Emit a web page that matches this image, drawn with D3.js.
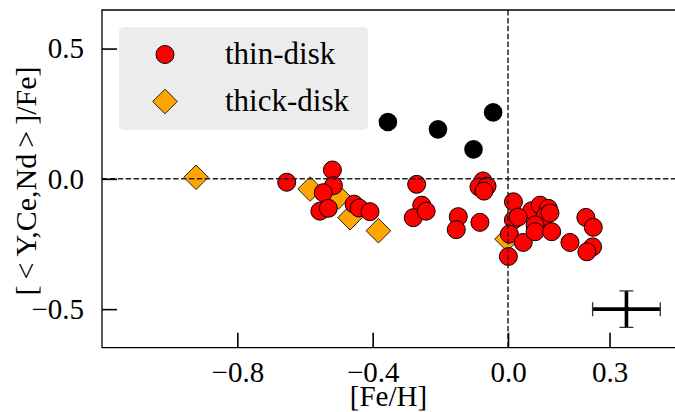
<!DOCTYPE html>
<html>
<head>
<meta charset="utf-8">
<script src="https://cdn.jsdelivr.net/npm/d3@7"></script>
<style>
  html, body { margin: 0; padding: 0; background: #fff; }
  svg { display: block; font-family: "Liberation Serif", "Times New Roman", serif; }
</style>
</head>
<body>
<svg id="chart" width="675" height="412"></svg>
<script>
// [Fe/H] and [<Y,Ce,Nd>/Fe] for the thin-disk stars
const thinFeH = [-0.654, -0.519, -0.516, -0.546, -0.556, -0.531, -0.455, -0.440, -0.408,
  -0.270, -0.255, -0.280, -0.242, -0.147, -0.153, -0.083, -0.074, -0.086, -0.062, -0.071,
  0.016, 0.016, 0.004, 0.001, 0.045, 0.070, 0.095, 0.119, 0.109, 0.080, 0.080, 0.129,
  0.030, 0.124, 0.183, 0.230, 0.252, 0.250, 0.233];
const thinYCeNd = [-0.013, 0.034, -0.026, -0.053, -0.124, -0.113, -0.097, -0.112, -0.126,
  -0.021, -0.101, -0.149, -0.124, -0.145, -0.195, -0.167, -0.008, -0.031, -0.028, -0.047,
  -0.088, -0.158, -0.212, -0.298, -0.244, -0.122, -0.101, -0.113, -0.145, -0.177, -0.203, -0.203,
  -0.147, -0.131, -0.244, -0.148, -0.186, -0.261, -0.280];

// thick-disk stars
const thickFeH = [-0.922, -0.585, -0.501, -0.467, -0.383, -0.003];
const thickYCeNd = [0.006, -0.039, -0.069, -0.149, -0.199, -0.231];

// unclassified stars (black)
const otherFeH = [-0.355, -0.207, -0.102, -0.044];
const otherYCeNd = [0.218, 0.190, 0.113, 0.255];

// typical uncertainty
const errFeH = [0.35], errYCeNd = [-0.5], errX = [0.1], errY = [0.07];

const xTicks = [-0.8, -0.4, 0.0, 0.3];
const yTicks = [-0.5, 0.0, 0.5];

const svg = d3.select("#chart");
const pLeft = 102, pRight = 675, pTop = 10, pBottom = 347.7;
const x = d3.scaleLinear().domain([-1.2, 0.4935]).range([pLeft, pRight]);
const y = d3.scaleLinear().domain([-0.648, 0.648]).range([pBottom, pTop]);

const fmt = v => d3.format(".1f")(v).replace("-", "\u2212");

const plot = svg.append("g");
const clip = svg.append("clipPath").attr("id", "clip");
clip.append("rect").attr("x", pLeft).attr("y", pTop).attr("width", pRight - pLeft).attr("height", pBottom - pTop);
const marks = plot.append("g").attr("clip-path", "url(#clip)");

// thick-disk diamonds
const dsz = 12.3;
const diamond = (cx, cy) => `M${cx},${cy - dsz}L${cx + dsz},${cy}L${cx},${cy + dsz}L${cx - dsz},${cy}Z`;
marks.selectAll("path.thick").data(thickFeH.map((v, i) => [v, thickYCeNd[i]])).join("path")
  .attr("class", "thick")
  .attr("d", d => diamond(x(d[0]), y(d[1])))
  .attr("fill", "#ffa500").attr("stroke", "#222").attr("stroke-width", 1);

// thin-disk circles
marks.selectAll("circle.thin").data(thinFeH.map((v, i) => [v, thinYCeNd[i]])).join("circle")
  .attr("class", "thin")
  .attr("cx", d => x(d[0])).attr("cy", d => y(d[1])).attr("r", 9)
  .attr("fill", "#ff0000").attr("stroke", "#000").attr("stroke-width", 1);

// other stars
marks.selectAll("circle.other").data(otherFeH.map((v, i) => [v, otherYCeNd[i]])).join("circle")
  .attr("class", "other")
  .attr("cx", d => x(d[0])).attr("cy", d => y(d[1])).attr("r", 9.3)
  .attr("fill", "#000");

// zero reference lines
marks.append("line").attr("x1", pLeft).attr("x2", pRight).attr("y1", y(0)).attr("y2", y(0))
  .attr("stroke", "#222").attr("stroke-width", 1.5).attr("stroke-dasharray", "5.5,2.4");
marks.append("line").attr("x1", x(0)).attr("x2", x(0)).attr("y1", pTop).attr("y2", pBottom)
  .attr("stroke", "#222").attr("stroke-width", 1.5).attr("stroke-dasharray", "5.5,2.4");

// error cross
errFeH.forEach((v, i) => {
  const cx = x(v), cy = y(errYCeNd[i]);
  const x0 = x(v - errX[i]), x1 = x(v + errX[i]);
  const y0 = y(errYCeNd[i] + errY[i]), y1 = y(errYCeNd[i] - errY[i]);
  const g = marks.append("g").attr("stroke", "#000");
  g.append("line").attr("x1", x0).attr("x2", x1).attr("y1", cy).attr("y2", cy).attr("stroke-width", 3.6);
  g.append("line").attr("x1", cx).attr("x2", cx).attr("y1", y0).attr("y2", y1).attr("stroke-width", 3.6);
  g.append("line").attr("x1", x0).attr("x2", x0).attr("y1", cy - 7).attr("y2", cy + 7).attr("stroke-width", 1.3).attr("stroke", "#333");
  g.append("line").attr("x1", x1).attr("x2", x1).attr("y1", cy - 7).attr("y2", cy + 7).attr("stroke-width", 1.3).attr("stroke", "#333");
  g.append("line").attr("x1", cx - 7).attr("x2", cx + 7).attr("y1", y0).attr("y2", y0).attr("stroke-width", 1.3).attr("stroke", "#333");
  g.append("line").attr("x1", cx - 7).attr("x2", cx + 7).attr("y1", y1).attr("y2", y1).attr("stroke-width", 1.3).attr("stroke", "#333");
});

// axes with inward ticks
const xAxis = d3.axisBottom(x).tickValues(xTicks).tickFormat(fmt).tickSize(-15).tickPadding(13.5);
const yAxis = d3.axisLeft(y).tickValues(yTicks).tickFormat(fmt).tickSize(-15).tickPadding(18);

const gx = svg.append("g").attr("transform", `translate(0,${pBottom})`).call(xAxis);
const gy = svg.append("g").attr("transform", `translate(${pLeft},0)`).call(yAxis);
[gx, gy].forEach(g => {
  g.select(".domain").remove();
  g.selectAll(".tick line").attr("stroke", "#000").attr("stroke-width", 1.6);
  g.selectAll(".tick text").attr("font-size", 29).attr("fill", "#000")
    .attr("font-family", "Liberation Serif, serif");
});
gx.selectAll(".tick text").attr("dy", "0.71em");

// frame (left, top, bottom)
svg.append("path")
  .attr("d", `M${pRight},${pTop}H${pLeft}V${pBottom}H${pRight}`)
  .attr("fill", "none").attr("stroke", "#000").attr("stroke-width", 1.3);

// axis titles
svg.append("text").attr("x", (pLeft + pRight) / 2).attr("y", 406)
  .attr("text-anchor", "middle").attr("font-size", 29).text("[Fe/H]");
svg.append("text").attr("transform", `translate(35.5,181) rotate(-90)`)
  .attr("text-anchor", "middle").attr("font-size", 30)
  .text("[\u2009<\u2009Y,Ce,Nd\u2009>\u2009]/Fe]");

// legend
const lg = svg.append("g");
lg.append("rect").attr("x", 119).attr("y", 27).attr("width", 249).attr("height", 103)
  .attr("rx", 5).attr("fill", "#ececec");
lg.append("circle").attr("cx", 165).attr("cy", 54.5).attr("r", 9)
  .attr("fill", "#ff0000").attr("stroke", "#000").attr("stroke-width", 1);
lg.append("path").attr("d", diamond(165, 101.5))
  .attr("fill", "#ffa500").attr("stroke", "#222").attr("stroke-width", 1);
lg.append("text").attr("x", 225).attr("y", 63.5).attr("font-size", 31).text("thin-disk");
lg.append("text").attr("x", 225).attr("y", 110.5).attr("font-size", 31).text("thick-disk");
</script>
</body>
</html>
